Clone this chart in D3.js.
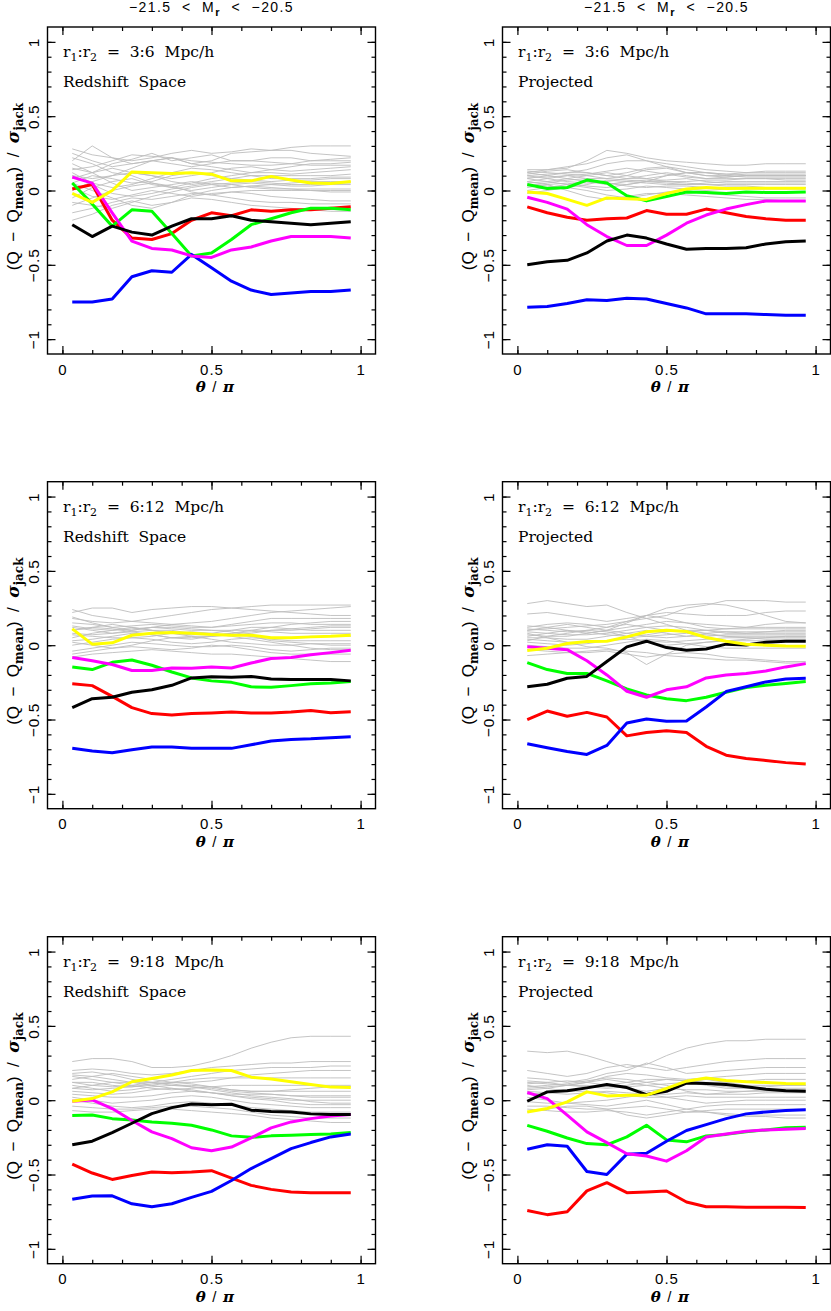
<!DOCTYPE html>
<html>
<head>
<meta charset="utf-8">
<script src="https://cdn.jsdelivr.net/npm/d3@7"></script>
<style>
body { margin: 0; background: #fff; }
svg { display: block; }
</style>
</head>
<body>
<svg id="fig" width="831" height="1311"></svg>
<script>
// theta / pi bin centres
const thetaPi = [0.033, 0.1, 0.167, 0.233, 0.3, 0.367, 0.433, 0.5, 0.567, 0.633, 0.7, 0.767, 0.833, 0.9, 0.967];

const seriesColors = ["#ff0000", "#00ff00", "#0000ff", "#ff00ff", "#000000", "#ffff00"];
const spaceLabels = ["Redshift Space", "Projected"];
const scaleLabels = ["3:6", "6:12", "9:18"];
const magTitle = ["\u221221.5 < M", "r", " < \u221220.5"];
const yTicks = [-1, -0.5, 0, 0.5, 1];
const xTicks = [0, 0.5, 1];

// colored series, order: red, green, blue, magenta, black, yellow
const rs36 = [
  [0.01, 0.04, -0.2, -0.32, -0.33, -0.29, -0.2, -0.15, -0.17, -0.13, -0.14, -0.13, -0.13, -0.12, -0.11],
  [0.05, -0.09, -0.24, -0.13, -0.14, -0.29, -0.44, -0.42, -0.33, -0.23, -0.19, -0.15, -0.12, -0.12, -0.13],
  [-0.75, -0.75, -0.73, -0.58, -0.54, -0.55, -0.43, -0.52, -0.61, -0.67, -0.70, -0.69, -0.68, -0.68, -0.67],
  [0.09, 0.05, -0.15, -0.34, -0.39, -0.40, -0.44, -0.45, -0.40, -0.38, -0.34, -0.31, -0.31, -0.31, -0.32],
  [-0.23, -0.31, -0.24, -0.28, -0.30, -0.24, -0.19, -0.19, -0.17, -0.20, -0.21, -0.22, -0.23, -0.22, -0.21],
  [-0.02, -0.08, 0, 0.125, 0.12, 0.115, 0.12, 0.11, 0.065, 0.065, 0.095, 0.07, 0.05, 0.047, 0.06]
];
const pr36 = [
  [-0.11, -0.15, -0.18, -0.2, -0.19, -0.185, -0.135, -0.16, -0.16, -0.125, -0.15, -0.175, -0.19, -0.2, -0.2],
  [0.04, 0.013, 0.02, 0.07, 0.05, -0.035, -0.07, -0.04, -0.01, -0.013, -0.02, -0.01, -0.013, -0.013, -0.01],
  [-0.785, -0.78, -0.76, -0.735, -0.74, -0.725, -0.73, -0.76, -0.79, -0.83, -0.83, -0.83, -0.835, -0.84, -0.84],
  [-0.045, -0.08, -0.125, -0.23, -0.31, -0.37, -0.37, -0.30, -0.22, -0.165, -0.125, -0.095, -0.07, -0.07, -0.07],
  [-0.50, -0.48, -0.47, -0.42, -0.34, -0.30, -0.32, -0.36, -0.395, -0.39, -0.39, -0.385, -0.36, -0.345, -0.34],
  [-0.01, -0.02, -0.06, -0.1, -0.05, -0.055, -0.06, -0.02, 0.01, 0.02, 0.013, 0.015, 0.015, 0.015, 0.015]
];
const rs612 = [
  [-0.26, -0.272, -0.344, -0.42, -0.46, -0.47, -0.46, -0.456, -0.45, -0.456, -0.456, -0.45, -0.44, -0.454, -0.447],
  [-0.146, -0.164, -0.115, -0.1, -0.135, -0.18, -0.22, -0.24, -0.25, -0.28, -0.283, -0.272, -0.26, -0.254, -0.245],
  [-0.694, -0.712, -0.724, -0.703, -0.685, -0.685, -0.694, -0.694, -0.694, -0.67, -0.645, -0.634, -0.63, -0.622, -0.616],
  [-0.083, -0.105, -0.13, -0.17, -0.17, -0.153, -0.155, -0.146, -0.153, -0.12, -0.09, -0.083, -0.065, -0.05, -0.034],
  [-0.42, -0.36, -0.35, -0.317, -0.3, -0.27, -0.22, -0.213, -0.216, -0.21, -0.227, -0.23, -0.23, -0.23, -0.24],
  [0.11, 0.007, 0.016, 0.067, 0.08, 0.085, 0.08, 0.072, 0.067, 0.067, 0.05, 0.05, 0.056, 0.06, 0.067]
];
const pr612 = [
  [-0.5, -0.443, -0.478, -0.452, -0.483, -0.61, -0.587, -0.575, -0.587, -0.68, -0.74, -0.762, -0.775, -0.79, -0.8],
  [-0.117, -0.164, -0.19, -0.19, -0.24, -0.294, -0.335, -0.36, -0.373, -0.35, -0.317, -0.285, -0.27, -0.258, -0.245],
  [-0.663, -0.69, -0.715, -0.735, -0.674, -0.524, -0.497, -0.512, -0.51, -0.416, -0.312, -0.28, -0.247, -0.227, -0.222],
  [-0.011, -0.02, -0.03, -0.105, -0.2, -0.31, -0.35, -0.30, -0.28, -0.22, -0.2, -0.19, -0.173, -0.146, -0.124],
  [-0.28, -0.263, -0.222, -0.21, -0.11, -0.011, 0.027, -0.016, -0.034, -0.025, 0.007, 0.002, 0.02, 0.027, 0.027],
  [-0.036, -0.02, 0.011, 0.025, 0.027, 0.056, 0.09, 0.1, 0.092, 0.052, 0.027, 0.007, 0, -0.005, -0.007]
];
const rs918 = [
  [-0.43, -0.49, -0.533, -0.506, -0.483, -0.488, -0.483, -0.474, -0.524, -0.573, -0.6, -0.618, -0.622, -0.622, -0.622],
  [-0.103, -0.1, -0.124, -0.133, -0.146, -0.155, -0.169, -0.2, -0.24, -0.25, -0.24, -0.236, -0.23, -0.227, -0.218],
  [-0.667, -0.645, -0.643, -0.697, -0.717, -0.697, -0.654, -0.613, -0.54, -0.46, -0.393, -0.326, -0.285, -0.247, -0.227],
  [-0.007, 0.002, -0.056, -0.137, -0.213, -0.258, -0.32, -0.34, -0.315, -0.254, -0.186, -0.146, -0.124, -0.106, -0.097],
  [-0.3, -0.276, -0.218, -0.155, -0.09, -0.05, -0.025, -0.03, -0.027, -0.067, -0.076, -0.079, -0.092, -0.097, -0.097],
  [-0.007, 0.011, 0.056, 0.124, 0.146, 0.169, 0.2, 0.204, 0.2, 0.155, 0.142, 0.124, 0.106, 0.088, 0.085]
];
const pr918 = [
  [-0.742, -0.77, -0.75, -0.61, -0.555, -0.622, -0.618, -0.611, -0.685, -0.717, -0.717, -0.72, -0.72, -0.72, -0.722],
  [-0.169, -0.209, -0.254, -0.292, -0.3, -0.247, -0.169, -0.267, -0.28, -0.24, -0.23, -0.213, -0.2, -0.186, -0.182],
  [-0.33, -0.3, -0.31, -0.48, -0.5, -0.363, -0.357, -0.276, -0.204, -0.164, -0.124, -0.092, -0.079, -0.07, -0.065],
  [0.052, 0.011, -0.1, -0.213, -0.285, -0.36, -0.375, -0.41, -0.34, -0.247, -0.227, -0.209, -0.2, -0.196, -0.19],
  [-0.007, 0.056, 0.063, 0.083, 0.106, 0.085, 0.038, 0.06, 0.115, 0.112, 0.106, 0.09, 0.074, 0.063, 0.06],
  [-0.08, -0.056, -0.011, 0.056, 0.029, 0.034, 0.034, 0.079, 0.128, 0.15, 0.133, 0.124, 0.119, 0.112, 0.11]
];

// grey mock catalogues
const rs36Gray = [
  [.28,.24,.22,.2,.22,.25,.27,.25,.26,.28,.27,.29,.3,.3,.3],
  [.2,.3,.22,.18,.2,.22,.18,.2,.25,.26,.27,.27,.25,.24,.23],
  [.15,.12,.18,.21,.25,.2,.22,.24,.2,.2,.22,.22,.2,.21,.22],
  [.1,.08,.1,.15,.2,.22,.18,.16,.14,.12,.14,.16,.18,.18,.19],
  [.08,.12,.15,.12,.1,.08,.1,.12,.15,.16,.14,.13,.14,.15,.16],
  [.22,.18,.12,.1,.05,.02,.05,.08,.1,.12,.12,.11,.12,.13,.14],
  [.05,.1,.08,.05,.06,.1,.12,.1,.08,.1,.1,.1,.1,.1,.11],
  [.12,.05,.02,.04,.08,.12,.15,.14,.12,.1,.08,.08,.08,.09,.09],
  [0,.06,.1,.12,.1,.06,.04,.06,.08,.07,.06,.07,.07,.08,.08],
  [.18,.12,.05,0,.02,.04,.06,.04,.02,.03,.04,.05,.06,.06,.06],
  [-.05,.02,.06,.08,.04,.02,0,.02,.04,.05,.04,.03,.03,.04,.04],
  [.1,.04,-.02,-.04,-.02,.01,.03,.05,.04,.02,.01,.01,.01,.01,.01],
  [-.1,-.05,0,.03,.05,.03,-.01,-.03,-.01,0,0,0,0,0,0],
  [.02,-.04,-.06,-.03,0,-.02,-.04,-.02,-.01,-.02,-.04,-.05,-.06,-.07,-.07],
  [-.15,-.12,-.08,-.05,-.06,-.04,-.02,-.03,-.05,-.07,-.08,-.08,-.09,-.09,-.09],
  [-.2,-.16,-.1,-.07,-.1,-.08,-.05,-.06,-.08,-.1,-.11,-.12,-.13,-.14,-.14],
  [.05,0,-.05,-.1,-.12,-.08,-.03,0,.02,.03,.02,.01,0,-.01,-.01],
  [-.08,-.1,-.12,-.08,-.04,-.01,.02,.04,.05,.06,.05,.04,.04,.05,.05],
  [.25,.2,.16,.18,.2,.18,.16,.18,.2,.2,.19,.18,.17,.17,.17],
  [.14,.16,.2,.24,.23,.22,.2,.19,.18,.17,.17,.18,.2,.2,.2]
];
const pr36Gray = [
  [.14,.14,.15,.2,.27,.25,.22,.2,.19,.18,.17,.17,.18,.18,.18],
  [.12,.14,.16,.18,.22,.24,.2,.18,.16,.14,.13,.12,.12,.12,.12],
  [.1,.11,.12,.14,.18,.2,.2,.16,.12,.1,.1,.11,.11,.11,.11],
  [.13,.12,.11,.1,.08,.1,.14,.15,.12,.1,.09,.1,.1,.1,.1],
  [.08,.1,.12,.12,.1,.08,.08,.1,.12,.12,.1,.09,.09,.09,.09],
  [.06,.08,.1,.08,.05,.04,.06,.1,.12,.12,.11,.1,.1,.1,.1],
  [.1,.08,.06,.05,.06,.08,.1,.12,.1,.08,.08,.08,.08,.08,.08],
  [.05,.06,.08,.1,.12,.1,.08,.06,.06,.07,.07,.08,.08,.07,.07],
  [.04,.03,.02,.04,.07,.06,.05,.04,.04,.05,.06,.06,.06,.06,.06],
  [.12,.1,.08,.06,.04,.06,.07,.07,.08,.06,.05,.05,.05,.05,.05],
  [.02,.04,.05,.03,.02,.04,.06,.05,.04,.04,.04,.04,.04,.04,.04],
  [0,.02,.04,.06,.05,.03,.02,.03,.03,.02,.02,.02,.02,.02,.02],
  [.08,.06,.04,.02,0,.01,.03,.02,.01,0,.01,.01,.01,.01,.01],
  [-.02,0,.02,0,-.03,-.05,-.03,-.01,0,-.02,-.03,-.04,-.05,-.05,-.05],
  [.06,.04,0,-.04,-.06,-.04,-.02,-.02,-.03,-.04,-.05,-.06,-.06,-.07,-.07],
  [.11,.13,.14,.12,.1,.12,.15,.16,.14,.12,.11,.12,.13,.13,.13],
  [.09,.09,.1,.11,.13,.15,.13,.11,.09,.08,.09,.1,.1,.1,.1],
  [.03,.05,.07,.08,.08,.07,.06,.06,.05,.04,.03,.03,.02,.02,.02]
];
const rs612Gray = [
  [.24,.2,.18,.16,.18,.2,.22,.24,.25,.26,.27,.27,.27,.27,.27],
  [.22,.25,.25,.22,.24,.25,.26,.26,.25,.24,.23,.22,.21,.2,.2],
  [.18,.16,.15,.16,.15,.14,.15,.16,.18,.2,.22,.23,.24,.25,.26],
  [.15,.14,.12,.1,.12,.14,.13,.12,.14,.16,.18,.18,.18,.18,.18],
  [.12,.1,.08,.09,.1,.1,.08,.07,.08,.1,.12,.14,.15,.16,.16],
  [.1,.12,.14,.12,.1,.08,.06,.06,.07,.08,.1,.11,.12,.13,.13],
  [.08,.07,.08,.1,.12,.11,.1,.1,.1,.12,.12,.11,.1,.1,.1],
  [.05,.08,.1,.12,.1,.08,.07,.08,.1,.1,.09,.08,.08,.08,.08],
  [.03,.04,.06,.08,.07,.05,.04,.06,.07,.06,.05,.05,.06,.06,.06],
  [0,.02,.04,.05,.04,.02,.01,.02,.04,.05,.04,.03,.03,.03,.03],
  [.02,0,-.02,0,.03,.05,.06,.04,.02,.01,0,0,.01,.01,.01],
  [-.04,-.02,0,.02,.01,0,-.01,-.01,0,-.01,-.03,-.04,-.03,-.02,-.02],
  [-.06,-.04,-.02,-.01,-.02,-.03,-.02,0,-.01,-.03,-.05,-.06,-.06,-.06,-.06],
  [-.08,-.06,-.05,-.04,-.03,-.04,-.05,-.06,-.06,-.07,-.08,-.09,-.1,-.11,-.11],
  [.13,.11,.1,.11,.12,.12,.11,.1,.09,.06,.03,.02,.01,0,0],
  [.07,.06,.05,.05,.06,.08,.09,.08,.06,.04,.02,0,-.02,-.03,-.03],
  [.19,.15,.12,.13,.14,.13,.12,.12,.13,.14,.15,.15,.14,.14,.14],
  [.1,.12,.11,.09,.07,.05,.05,.06,.08,.09,.1,.1,.11,.12,.12]
];
const pr612Gray = [
  [.28,.3,.28,.26,.27,.22,.18,.2,.25,.27,.3,.3,.3,.29,.29],
  [.21,.22,.2,.18,.16,.18,.2,.22,.21,.2,.2,.2,.22,.23,.23],
  [.12,.14,.15,.14,.12,.16,.2,.18,.15,.12,.11,.12,.14,.15,.15],
  [.1,.12,.14,.12,.1,.12,.14,.16,.15,.14,.13,.12,.12,.12,.12],
  [.11,.1,.09,.1,.12,.14,.12,.1,.09,.1,.11,.11,.11,.11,.11],
  [.09,.08,.07,.07,.08,.1,.12,.13,.12,.1,.08,.08,.09,.1,.1],
  [.07,.06,.06,.08,.1,.08,.06,.05,.06,.08,.09,.09,.09,.09,.09],
  [.06,.08,.1,.09,.07,.06,.07,.09,.1,.1,.09,.08,.08,.08,.08],
  [.05,.05,.04,.04,.06,.08,.1,.08,.06,.06,.07,.07,.07,.07,.07],
  [.04,.03,.02,.02,.03,.05,.06,.07,.08,.07,.06,.06,.06,.06,.06],
  [.02,.01,0,.01,.03,.04,.03,.02,.03,.04,.05,.05,.05,.05,.05],
  [.08,.05,.02,-.01,-.02,-.05,-.13,-.06,0,.02,.03,.03,.03,.03,.03],
  [0,-.01,-.02,-.02,0,.02,.04,.03,.01,-.01,-.02,-.02,-.02,-.02,-.02],
  [-.03,-.04,-.05,-.05,-.04,-.06,-.08,-.06,-.05,-.06,-.08,-.09,-.1,-.11,-.11],
  [-.07,-.06,-.05,-.04,-.03,-.04,-.05,-.07,-.08,-.09,-.1,-.1,-.11,-.12,-.12],
  [.13,.12,.1,.08,.1,.15,.2,.25,.27,.28,.27,.24,.2,.16,.15],
  [.1,.11,.12,.13,.14,.16,.18,.14,.1,.08,.06,.05,.04,.04,.04],
  [.03,.06,.08,.1,.09,.06,.02,0,.01,.02,.03,.04,.05,.06,.06]
];
const rs918Gray = [
  [.26,.28,.28,.26,.22,.22,.23,.26,.3,.35,.39,.42,.43,.43,.43],
  [.2,.21,.2,.18,.17,.18,.2,.22,.23,.24,.25,.25,.26,.26,.26],
  [.17,.16,.14,.12,.12,.14,.16,.18,.2,.21,.22,.22,.22,.23,.23],
  [.14,.16,.18,.16,.14,.12,.12,.13,.15,.17,.18,.19,.2,.2,.2],
  [.12,.12,.1,.09,.1,.12,.14,.15,.15,.15,.15,.15,.15,.15,.15],
  [.16,.14,.12,.1,.08,.07,.08,.09,.1,.1,.1,.1,.1,.1,.1],
  [.1,.08,.06,.07,.09,.1,.1,.09,.07,.06,.06,.06,.06,.06,.06],
  [.08,.1,.12,.12,.1,.08,.06,.05,.04,.04,.04,.03,.03,.03,.03],
  [.06,.05,.04,.05,.07,.08,.07,.05,.03,.02,.01,0,0,0,0],
  [.04,.03,.02,.02,.03,.05,.06,.05,.03,.01,0,-.02,-.03,-.03,-.03],
  [.02,0,-.02,-.01,0,.02,.03,.02,0,-.02,-.03,-.04,-.05,-.05,-.05],
  [0,-.02,-.04,-.05,-.04,-.02,-.01,-.02,-.03,-.05,-.06,-.07,-.08,-.08,-.08],
  [-.04,-.05,-.06,-.06,-.05,-.04,-.04,-.05,-.06,-.08,-.1,-.11,-.12,-.12,-.12],
  [-.07,-.08,-.08,-.07,-.06,-.06,-.07,-.08,-.09,-.1,-.12,-.13,-.14,-.15,-.15],
  [.18,.19,.17,.14,.12,.1,.09,.08,.06,.05,.04,.03,.02,.02,.02],
  [.12,.1,.09,.1,.12,.11,.09,.07,.05,.03,.02,.01,-.01,-.02,-.02],
  [.08,.07,.08,.09,.11,.12,.11,.09,.07,.06,.06,.07,.08,.09,.09]
];
const pr918Gray = [
  [.33,.32,.33,.3,.26,.22,.24,.3,.35,.38,.4,.4,.41,.41,.41],
  [.2,.18,.16,.18,.22,.24,.22,.2,.22,.24,.26,.27,.28,.28,.28],
  [.15,.14,.12,.14,.18,.2,.25,.22,.18,.19,.2,.21,.22,.22,.22],
  [.13,.12,.1,.12,.16,.18,.17,.15,.14,.15,.16,.17,.18,.18,.18],
  [.11,.12,.13,.12,.1,.12,.14,.14,.13,.12,.12,.13,.14,.14,.14],
  [.1,.08,.06,.08,.1,.08,.06,.08,.12,.14,.12,.1,.1,.1,.1],
  [.08,.09,.1,.1,.09,.1,.12,.1,.06,.04,.05,.06,.07,.07,.07],
  [.06,.05,.04,.05,.06,.05,.04,.04,.05,.04,.04,.04,.05,.05,.05],
  [.04,.05,.06,.06,.05,.03,.02,.02,.03,.02,.02,.02,.02,.02,.02],
  [.02,0,-.02,-.01,0,.02,.04,.02,0,-.02,-.01,0,0,0,0],
  [-.01,-.02,-.02,-.03,-.04,-.02,0,-.03,-.06,-.04,-.03,-.03,-.03,-.03,-.03],
  [-.04,-.04,-.05,-.06,-.06,-.05,-.04,-.06,-.08,-.07,-.06,-.06,-.06,-.06,-.06],
  [-.06,-.07,-.08,-.08,-.07,-.08,-.1,-.08,-.06,-.08,-.1,-.11,-.11,-.12,-.12],
  [-.08,-.06,-.04,-.04,-.06,-.1,-.12,-.1,-.08,-.08,-.09,-.1,-.1,-.1,-.1],
  [.12,.11,.1,.09,.08,.09,.1,.11,.12,.1,.08,.08,.08,.08,.08],
  [.07,.08,.1,.12,.14,.12,.1,.08,.07,.07,.06,.06,.06,.06,.06],
  [.09,.1,.11,.13,.15,.14,.12,.14,.13,.11,.09,.08,.09,.1,.1]
];

const svg = d3.select("#fig");
svg.append("rect").attr("width", 831).attr("height", 1311).attr("fill", "#fff");

const pw = 328, ph = 327;
const lefts = [47.5, 502.5];
const tops = [27, 481.7, 936.7];

const sansFont = "'Liberation Sans', Helvetica, Arial, sans-serif";
const serifFont = "'DejaVu Serif', 'Liberation Serif', serif";

const panels = [
  { row: 0, col: 0, colored: rs36, gray: rs36Gray },
  { row: 0, col: 1, colored: pr36, gray: pr36Gray },
  { row: 1, col: 0, colored: rs612, gray: rs612Gray },
  { row: 1, col: 1, colored: pr612, gray: pr612Gray },
  { row: 2, col: 0, colored: rs918, gray: rs918Gray },
  { row: 2, col: 1, colored: pr918, gray: pr918Gray }
];

panels.forEach(drawPanel);

function drawPanel(p) {
  const left = lefts[p.col], top = tops[p.row];
  const g = svg.append("g").attr("transform", `translate(${left},${top})`);

  const x = d3.scaleLinear().domain([-0.05, 1.05]).range([0, pw]);
  const y = d3.scaleLinear().domain([-1.1, 1.1]).range([ph, 0]);

  const line = d3.line()
    .x((d, i) => x(thetaPi[i]))
    .y(d => y(d));

  g.append("g").selectAll("path")
    .data(p.gray)
    .join("path")
    .attr("d", line)
    .attr("fill", "none")
    .attr("stroke", "#bdbdbd")
    .attr("stroke-width", 0.9);

  g.append("g").selectAll("path")
    .data(p.colored)
    .join("path")
    .attr("d", line)
    .attr("fill", "none")
    .attr("stroke", (d, i) => seriesColors[i])
    .attr("stroke-width", 3)
    .attr("stroke-linejoin", "round");

  // ticks, all pointing inward
  const minorX = d3.range(0, 1.001, 0.1);
  const minorY = d3.range(-1, 1.001, 0.1);

  function axisStyle(sel) {
    sel.select(".domain").remove();
    sel.selectAll("line").attr("stroke", "#000").attr("stroke-width", 1.2);
  }

  g.append("g").attr("transform", `translate(0,${ph})`)
    .call(d3.axisBottom(x).tickValues(minorX).tickSize(-4).tickFormat(""))
    .call(axisStyle);
  g.append("g")
    .call(d3.axisTop(x).tickValues(minorX).tickSize(-4).tickFormat(""))
    .call(axisStyle);
  g.append("g")
    .call(d3.axisLeft(y).tickValues(minorY).tickSize(-4).tickFormat(""))
    .call(axisStyle);
  g.append("g").attr("transform", `translate(${pw},0)`)
    .call(d3.axisRight(y).tickValues(minorY).tickSize(-4).tickFormat(""))
    .call(axisStyle);

  const fmt = d3.format("~g");
  const xb = g.append("g").attr("transform", `translate(0,${ph})`)
    .call(d3.axisBottom(x).tickValues(xTicks).tickSize(-8).tickPadding(10).tickFormat(fmt))
    .call(axisStyle);
  xb.selectAll("text")
    .attr("font-family", sansFont).attr("font-size", 15)
    .attr("letter-spacing", 1).attr("fill", "#000");

  g.append("g")
    .call(d3.axisTop(x).tickValues(xTicks).tickSize(-8).tickFormat(""))
    .call(axisStyle);

  const yl = g.append("g")
    .call(d3.axisLeft(y).tickValues(yTicks).tickSize(-8).tickFormat(fmt))
    .call(axisStyle);
  yl.selectAll("text")
    .attr("transform", "rotate(-90)")
    .attr("x", 0).attr("y", -9).attr("dy", 0)
    .attr("text-anchor", "middle")
    .attr("font-family", sansFont).attr("font-size", 15.5)
    .attr("letter-spacing", 1).attr("fill", "#000");

  g.append("g").attr("transform", `translate(${pw},0)`)
    .call(d3.axisRight(y).tickValues(yTicks).tickSize(-8).tickFormat(""))
    .call(axisStyle);

  g.append("rect")
    .attr("width", pw).attr("height", ph)
    .attr("fill", "none").attr("stroke", "#000").attr("stroke-width", 1.4);

  // in-panel labels
  const t1 = g.append("text")
    .attr("x", 15.5).attr("y", 30)
    .attr("font-family", serifFont).attr("font-size", 15.5)
    .style("white-space", "pre");
  t1.append("tspan").text("r");
  t1.append("tspan").attr("dy", 4).attr("font-size", 11).text("1");
  t1.append("tspan").attr("dy", -4).text(":r");
  t1.append("tspan").attr("dy", 4).attr("font-size", 11).text("2");
  t1.append("tspan").attr("dy", -4).text("  =  " + scaleLabels[p.row] + "  Mpc/h");

  g.append("text")
    .attr("x", 15.5).attr("y", 60)
    .attr("font-family", serifFont).attr("font-size", 15.5)
    .style("white-space", "pre")
    .text(spaceLabels[p.col].replace(" ", "  "));

  // x title
  const xt = g.append("text")
    .attr("x", x(0.5) + 4).attr("y", ph + 38)
    .attr("text-anchor", "middle")
    .attr("font-size", 15)
    .attr("letter-spacing", 1.2)
    .style("white-space", "pre");
  xt.append("tspan").attr("font-family", serifFont).attr("font-style", "italic").attr("font-weight", "bold").text("\u03b8");
  xt.append("tspan").attr("font-family", sansFont).text(" / ");
  xt.append("tspan").attr("font-family", serifFont).attr("font-style", "italic").attr("font-weight", "bold").text("\u03c0");

  // y title
  const yt = g.append("text")
    .attr("transform", `translate(${-28.5},${ph / 2 - 4}) rotate(-90)`)
    .attr("text-anchor", "middle")
    .attr("font-size", 17)
    .style("white-space", "pre");
  yt.append("tspan").attr("font-family", sansFont).text("(Q  \u2212  Q");
  yt.append("tspan").attr("dy", 4).attr("font-family", serifFont).attr("font-weight", "bold").attr("font-size", 12).text("mean");
  yt.append("tspan").attr("dy", -4).attr("font-family", sansFont).text(")  /  ");
  yt.append("tspan").attr("font-family", serifFont).attr("font-style", "italic").attr("font-weight", "bold").text("\u03c3");
  yt.append("tspan").attr("dy", 4).attr("font-family", serifFont).attr("font-weight", "bold").attr("font-size", 12).text("jack");

  // top title on first row only
  if (p.row === 0) {
    const tt = g.append("text")
      .attr("x", x(0.5)).attr("y", -15)
      .attr("text-anchor", "middle")
      .attr("font-family", sansFont).attr("font-size", 14)
      .attr("letter-spacing", 1.4)
      .style("white-space", "pre");
    tt.append("tspan").text(magTitle[0].replace(/ /g, "  "));
    tt.append("tspan").attr("dy", 4).attr("font-size", 11).attr("font-weight", "bold").text(magTitle[1]);
    tt.append("tspan").attr("dy", -4).text(magTitle[2].replace(/ /g, "  "));
  }
}
</script>
</body>
</html>
